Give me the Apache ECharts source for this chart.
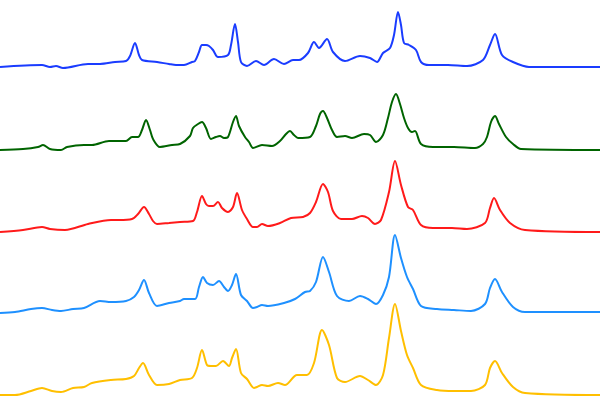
<!DOCTYPE html>
<html>
<head>
<meta charset="utf-8">
<script src="https://cdn.jsdelivr.net/npm/echarts@6/dist/echarts.min.js"></script>
<style>html,body{margin:0;padding:0;background:#fff}#c{width:600px;height:400px}</style>
</head>
<body>
<div id="c"></div>
<script>
// Stacked spectra: x positions and offset intensities for each trace
var blueX = [0,42,50,56,63,88,100,115,126,130,135,139,142,157,169,176,184,192,195,199,202,206,209,213,218,228,231,235,238,241,247,256,264,274,284,293,299,308,314,319,327,333,345,360,370,377,383,390,394,398,401,404,409,416,421,429,448,467,483,490,495,502,513,529,600];
var blueY = [333,335,333,334,332,336,336,338,339,344,357,345,340,338,336,335,335,338,339,348,355,355,354,350,343,345,355,376,358,338,334,339,335,341,336,340,340,347,358,352,361,348,339,344,342,338,347,352,365,388,375,357,355,350,338,335,335,334,340,355,366,345,338,333,333];

var greenX = [0,23,38,43,50,61,67,84,92,109,126,132,138,142,146,150,153,160,172,180,190,193,198,202,206,211,216,220,224,228,233,236,239,245,249,253,262,272,280,286,290,294,298,310,316,320,323,327,332,337,345,352,364,370,376,383,388,392,396,400,404,408,412,415,421,433,454,475,483,487,491,495,499,506,513,521,600];
var greenY = [250,251,253,255,251,250,253,255,255,259,259,263,263,270,280,270,261,253,255,256,264,272,276,278,272,261,263,264,262,263,278,284,274,263,258,252,255,254,259,266,269,265,262,263,274,286,289,282,270,263,264,262,266,265,258,265,282,298,306,296,282,272,268,269,256,253,253,252,256,263,278,284,276,263,256,251,250];

var redX = [0,23,42,50,65,88,111,119,132,138,144,149,153,157,169,180,193,197,202,206,209,213,218,222,228,233,237,242,247,253,257,262,268,280,291,303,310,316,323,328,333,341,352,362,368,375,381,389,395,401,408,413,421,433,452,467,485,490,494,500,510,525,600];
var redY = [168,170,173,171,170,176,180,180,181,186,193,186,179,176,177,178,179,188,204,196,194,194,198,192,188,193,207,190,181,173,173,176,174,177,182,183,187,198,216,208,189,181,181,184,182,176,180,208,239,215,193,190,175,172,172,171,177,192,202,190,177,170,168];

var skyX = [0,15,31,42,52,61,73,84,100,111,126,134,139,144,149,157,169,180,184,195,199,203,207,213,219,224,228,232,236,241,247,253,257,262,268,284,295,305,310,316,323,329,337,349,360,368,376,383,389,395,401,407,413,421,437,454,471,485,490,495,502,513,525,600];
var skyY = [87,88,91,92,90,89,91,92,99,98,99,103,110,120,107,94,97,99,101,101,113,123,117,115,119,113,109,115,126,105,99,92,93,95,94,97,101,108,109,118,143,128,104,99,104,101,96,105,123,165,142,123,111,94,91,90,89,96,112,121,108,93,88,88];

var amberX = [0,15,31,42,52,61,73,84,92,111,126,134,139,143,149,157,169,180,192,197,202,207,211,216,223,229,232,236,241,247,254,257,262,268,278,285,297,307,314,322,329,337,345,360,368,376,383,389,395,401,407,413,421,437,454,471,485,490,495,502,513,525,600];
var amberY = [5,5,9,12,9,8,12,13,17,20,21,24,32,37,25,15,16,20,22,32,50,35,34,34,39,34,42,51,27,21,12,13,15,14,17,15,25,25,37,70,55,22,18,24,20,15,25,62,96,69,45,32,15,10,9,9,15,32,39,27,13,7,5];

var traces = [
  {x: blueX, y: blueY, color: '#1a3cff'},
  {x: greenX, y: greenY, color: '#006400'},
  {x: redX, y: redY, color: '#ff1a1a'},
  {x: skyX, y: skyY, color: '#1e90ff'},
  {x: amberX, y: amberY, color: '#ffbf00'}
];

function zip(a, b) { return a.map(function (v, i) { return [v, b[i]]; }); }

var chart = echarts.init(document.getElementById('c'));
chart.setOption({
  animation: false,
  grid: {left: 0, right: 0, top: 0, bottom: 0},
  xAxis: {type: 'value', min: 0, max: 600, show: false},
  yAxis: {type: 'value', min: 0, max: 400, show: false},
  series: traces.map(function (t) {
    return {
      type: 'line',
      data: zip(t.x, t.y),
      smooth: 0.3,
      showSymbol: false,
      silent: true,
      lineStyle: {color: t.color, width: 2},
      itemStyle: {color: t.color}
    };
  })
});
</script>
</body>
</html>
